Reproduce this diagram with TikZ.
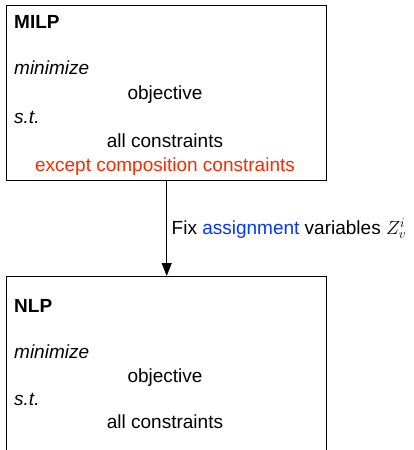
\RequirePackage{fix-cm}
\documentclass[tikz,border=0pt]{standalone}
\usepackage{fontspec}
\setmainfont{Liberation Sans}
\usepackage{tikz}
\usetikzlibrary{arrows.meta}
\usetikzlibrary{positioning}
\DeclareMathSizes{19}{19}{13.3}{9.5}
\definecolor{exceptred}{rgb}{1.0, 0.15, 0.0}
\definecolor{assignblue}{rgb}{0.02, 0.2, 1.0}

\begin{document}
\begin{tikzpicture}[x=1pt, y=-1pt, font=\fontsize{19}{24}\selectfont]
	\useasboundingbox (0,0) rectangle (413,450);
	\tikzset{
		probbox/.style={draw, line width=1.4pt, minimum width=320pt, minimum height=175pt, inner sep=0pt, anchor=north west},
		lefttext/.style={anchor=base west, inner sep=0pt},
		midtext/.style={anchor=base, inner sep=0pt}
	}

	% {MILP}
	\node[probbox] (milp) at (6,5) {};
		\node[lefttext, font=\fontsize{19}{24}\selectfont\bfseries] (milpname) at (14,28) {MILP};
		\node[lefttext] (milpmin) at (14,74) {\itshape minimize};
		\node[midtext] (milpobj) at (165,99) {objective};
		\node[lefttext] (milpst) at (14,123) {\itshape s.t.};
		\node[midtext] (milpcons) at (165,147) {all constraints};
		\node[midtext, exceptred] (milpexcept) at (165,171) {except composition constraints};

	% {NLP}
	\node[probbox] (nlp) at (6,276) {};
		\node[lefttext, font=\fontsize{19}{24}\selectfont\bfseries] (nlpname) at (14,312) {NLP};
		\node[lefttext] (nlpmin) at (14,358) {\itshape minimize};
		\node[midtext] (nlpobj) at (165,382) {objective};
		\node[lefttext] (nlpst) at (14,405) {\itshape s.t.};
		\node[midtext] (nlpcons) at (165,428) {all constraints};

	% {MILP -> NLP}
	\draw[line width=1.4pt, -{Triangle[width=10pt, length=13pt]}] (milp.south) -- (nlp.north);
	\node[lefttext] (fixlabel) at (171.5,234) {Fix \textcolor{assignblue}{assignment} variables $Z_v^i$};

\end{tikzpicture}
\end{document}
